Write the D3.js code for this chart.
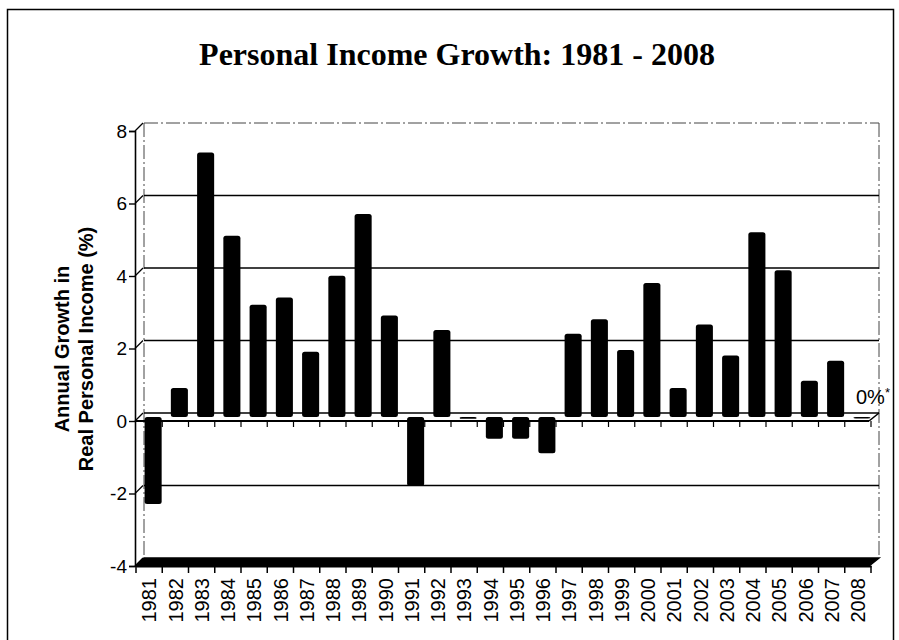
<!DOCTYPE html>
<html>
<head>
<meta charset="utf-8">
<script src="https://cdn.jsdelivr.net/npm/d3@7"></script>
<style>
  body { margin: 0; background: #fff; }
  text { fill: #000; }
</style>
</head>
<body>
<div id="chart"></div>
<script>
 //Data
 var years = ["1981", "1982", "1983", "1984", "1985", "1986", "1987", "1988", "1989", "1990",
     "1991", "1992", "1993", "1994", "1995", "1996", "1997", "1998", "1999", "2000",
     "2001", "2002", "2003", "2004", "2005", "2006", "2007", "2008"];
 var growth = [-2.4, 0.8, 7.3, 5.0, 3.1, 3.3, 1.8, 3.9, 5.6, 2.8,
     -1.9, 2.4, -0.05, -0.6, -0.6, -1.0, 2.3, 2.7, 1.85, 3.7,
     0.8, 2.55, 1.7, 5.1, 4.05, 1.0, 1.55, 0];
 var yTicks = [-4, -2, 0, 2, 4, 6, 8];

 //Dimensions (plot box)
 var W = 899, H = 640;
 var plotL = 136, plotR = 871, plotT = 131, plotB = 566;
 var dx = 8, dy = -8; //depth of the 3D box

 var svg = d3.select("#chart")
     .append("svg")
     .attr("width", W)
     .attr("height", H);

 //Outer frame
 svg.append("rect")
     .attr("x", 7.5).attr("y", 9.5)
     .attr("width", 886).attr("height", 660)
     .attr("fill", "none")
     .attr("stroke", "#000")
     .attr("stroke-width", 1.5);

 //Scales
 var x = d3.scaleBand()
     .domain(years)
     .range([plotL, plotR])
     .paddingInner(0.35)
     .paddingOuter(0.175);

 var y = d3.scaleLinear()
     .domain([-4, 8])
     .range([plotB, plotT]);

 //Title
 svg.append("text")
     .attr("x", 457)
     .attr("y", 65)
     .attr("text-anchor", "middle")
     .style("font-family", "'Liberation Serif', 'Times New Roman', serif")
     .style("font-weight", "bold")
     .style("font-size", "32px")
     .text("Personal Income Growth: 1981 - 2008");

 //Back wall edges (dash-dot)
 var wall = svg.append("g")
     .attr("fill", "none")
     .attr("stroke", "#444")
     .attr("stroke-width", 1)
     .attr("stroke-dasharray", "14,3,2,3");
 wall.append("line")
     .attr("x1", plotL + dx).attr("x2", plotL + dx)
     .attr("y1", y(8) + dy).attr("y2", y(-4) + dy);
 wall.append("line")
     .attr("x1", plotR + dx).attr("x2", plotR + dx)
     .attr("y1", y(8) + dy).attr("y2", y(-4) + dy);
 wall.append("line")
     .attr("x1", plotL + dx).attr("x2", plotR + dx)
     .attr("y1", y(8) + dy).attr("y2", y(8) + dy);

 //Gridlines on the back wall
 svg.append("g")
     .selectAll("line")
     .data([-2, 2, 4, 6])
     .enter()
     .append("line")
     .attr("x1", plotL + dx).attr("x2", plotR + dx)
     .attr("y1", function (d) { return y(d) + dy; })
     .attr("y2", function (d) { return y(d) + dy; })
     .attr("stroke", "#000")
     .attr("stroke-width", 1.6);

 //Diagonal connectors from axis to wall
 svg.append("g")
     .selectAll("line")
     .data(yTicks)
     .enter()
     .append("line")
     .attr("x1", plotL - 1).attr("x2", plotL - 1 + dx)
     .attr("y1", function (d) { return y(d); })
     .attr("y2", function (d) { return y(d) + dy; })
     .attr("stroke", "#000")
     .attr("stroke-width", 1.2);

 //Floor (black slab at -4)
 svg.append("path")
     .attr("d", "M" + plotL + "," + y(-4) + "L" + (plotR - 2) + "," + y(-4) +
         "L" + (plotR + dx) + "," + (y(-4) + dy) + "L" + (plotL + dx) + "," + (y(-4) + dy) + "Z")
     .attr("fill", "#000")
     .attr("stroke", "#000")
     .attr("stroke-width", 1.5);

 //Zero plane
 var zero = svg.append("g")
     .attr("stroke", "#000")
     .attr("fill", "none");
 zero.append("line")
     .attr("x1", plotL + dx).attr("x2", plotR + dx)
     .attr("y1", y(0) + dy).attr("y2", y(0) + dy)
     .attr("stroke-width", 1.6);
 zero.append("line")
     .attr("x1", plotR - 2).attr("x2", plotR + dx)
     .attr("y1", y(0)).attr("y2", y(0) + dy)
     .attr("stroke-width", 1.6);

 //Bars (drawn at mid depth)
 svg.append("g")
     .selectAll("rect")
     .data(growth)
     .enter()
     .append("rect")
     .attr("x", function (d, i) { return x(years[i]) + dx / 2; })
     .attr("y", function (d) { return Math.min(y(d), y(0)) + dy / 2; })
     .attr("width", x.bandwidth())
     .attr("height", function (d) { return Math.max(Math.abs(y(d) - y(0)), 1.5); })
     .attr("rx", 2.5)
     .attr("fill", "#000");

 //Front zero line with category ticks
 svg.append("line")
     .attr("x1", plotL - 1).attr("x2", plotR - 2)
     .attr("y1", y(0)).attr("y2", y(0))
     .attr("stroke", "#000")
     .attr("stroke-width", 2);

 var edges = d3.range(years.length + 1).map(function (i) { return plotL + i * x.step(); });
 svg.append("g")
     .selectAll("line")
     .data(edges.slice(1))
     .enter()
     .append("line")
     .attr("x1", function (d) { return d; }).attr("x2", function (d) { return d; })
     .attr("y1", y(0)).attr("y2", y(0) + 6)
     .attr("stroke", "#000")
     .attr("stroke-width", 1.2);

 //Bottom category axis
 var xAxis = svg.append("g")
     .attr("transform", "translate(0," + y(-4) + ")")
     .call(d3.axisBottom(x).tickSize(0).tickPadding(0));
 xAxis.select(".domain")
     .attr("stroke", "#000")
     .attr("stroke-width", 2);
 xAxis.selectAll("text")
     .attr("transform", "rotate(-90)")
     .attr("x", -12)
     .attr("y", 0)
     .attr("dy", "0.36em")
     .attr("text-anchor", "end")
     .style("font-family", "'Liberation Sans', Arial, sans-serif")
     .style("font-size", "20px");
 xAxis.append("g")
     .selectAll("line")
     .data(edges)
     .enter()
     .append("line")
     .attr("x1", function (d) { return d; }).attr("x2", function (d) { return d; })
     .attr("y1", 0).attr("y2", 7)
     .attr("stroke", "#000")
     .attr("stroke-width", 1.5);

 //Y axis
 var yAxis = svg.append("g")
     .attr("transform", "translate(" + (plotL - 1) + ",0)")
     .call(d3.axisLeft(y)
         .tickValues(yTicks)
         .tickSize(6)
         .tickPadding(2)
         .tickFormat(function (d) { return d < 0 ? "-" + (-d) : d; }));
 yAxis.select(".domain").attr("stroke", "#000").attr("stroke-width", 1.6);
 yAxis.selectAll(".tick line").attr("stroke", "#000").attr("stroke-width", 1.4);
 yAxis.selectAll("text")
     .style("font-family", "'Liberation Sans', Arial, sans-serif")
     .style("font-size", "19px");

 //Y axis label
 var yLab = svg.append("text")
     .attr("transform", "translate(69,349) rotate(-90)")
     .attr("text-anchor", "middle")
     .style("font-family", "'Liberation Sans', Arial, sans-serif")
     .style("font-weight", "bold")
     .style("font-size", "20px");
 yLab.append("tspan").attr("x", 0).attr("y", 0).text("Annual Growth in");
 yLab.append("tspan").attr("x", 0).attr("y", 24).text("Real Personal Income (%)");

 //Note for 2008
 var note = svg.append("text")
     .attr("x", 856)
     .attr("y", 404)
     .style("font-family", "'Liberation Sans', Arial, sans-serif")
     .style("font-size", "20px");
 note.append("tspan").text("0%");
 note.append("tspan").attr("dy", -7).style("font-size", "13px").text("*");
</script>
</body>
</html>
